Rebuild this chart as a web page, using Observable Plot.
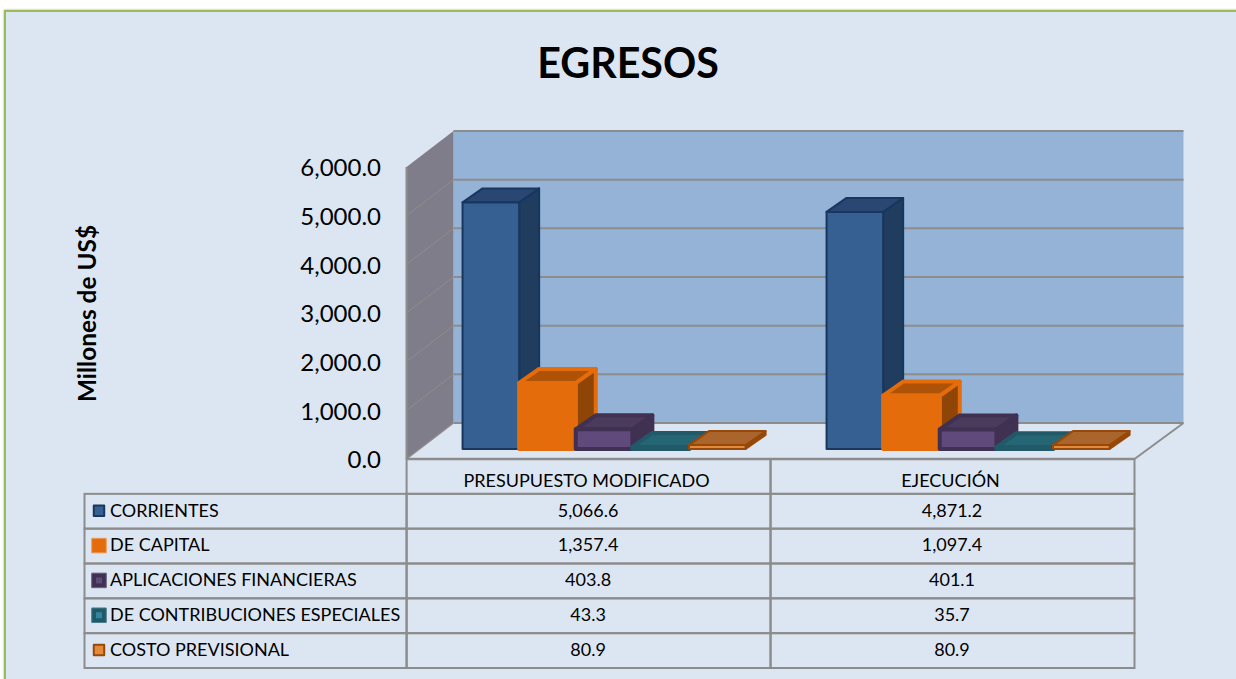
<!DOCTYPE html>
<html>
<head>
<meta charset="utf-8">
<script src="https://cdn.jsdelivr.net/npm/d3@7"></script>
<script src="https://cdn.jsdelivr.net/npm/@observablehq/plot@0.6"></script>
<style>
html,body{margin:0;padding:0;background:#fff;overflow:hidden;width:1236px;height:679px;}
body{font-family:Lato,sans-serif;color:#000;}
#frame{position:absolute;left:4px;top:10px;width:1260px;height:700px;background:#dce6f2;border:2.5px solid #9bbb59;box-sizing:border-box;box-shadow:0 0 2px #999;}
#page{position:absolute;left:0;top:0;width:1236px;}
#title{height:100px;width:1256px;box-sizing:border-box;padding-top:36px;line-height:52px;text-align:center;font-weight:700;font-size:41.2px;}
#table{margin-top:-2px;}
svg{display:block;background:transparent !important;overflow:visible;}
</style>
</head>
<body>
<div id="frame"></div>
<div id="page"><div id="title">EGRESOS</div><div id="chart"></div><div id="table"></div></div>
<script>
const categories = ["PRESUPUESTO MODIFICADO", "EJECUCIÓN"];
const seriesNames = ["CORRIENTES", "DE CAPITAL", "APLICACIONES FINANCIERAS", "DE CONTRIBUCIONES ESPECIALES", "COSTO PREVISIONAL"];
const corrientes = [5066.6, 4871.2];
const deCapital = [1357.4, 1097.4];
const aplicaciones = [403.8, 401.1];
const contribuciones = [43.3, 35.7];
const costoPrevisional = [80.9, 80.9];
const yTicks = [0, 1000, 2000, 3000, 4000, 5000, 6000];
const seriesValues = [corrientes, deCapital, aplicaciones, contribuciones, costoPrevisional];

const styles = [
  {front:"#366092", edge:"#17375e", sw:2,   side:"#203c5f", top:"#2a4672"},
  {front:"#e46c0a", edge:"#e46c0a", sw:4,   side:"#8f4505", top:"#ad5206"},
  {front:"#604a7b", edge:"#403152", sw:4,   side:"#403152", top:"#4a3a5e"},
  {front:"#31859c", edge:"#215968", sw:4,   side:"#215968", top:"#246674"},
  {front:"#e38b3d", edge:"#984807", sw:2,   side:"#984807", top:"#a9652b"}
];
const axisGrey = "#8c8c8c";
const wallDepth = [47, -36], wallRightDepth = 49, barDepth = [20, -14], barLift = 10;
const groupStart = 0.154, barWidth = 0.1555;

const svgNS = "http://www.w3.org/2000/svg";
function el(tag, attrs){const e=document.createElementNS(svgNS,tag);for(const k in attrs)e.setAttribute(k,attrs[k]);return e;}

function walls(index, {x, y}) {
  const g = el("g", {});
  const [dx, dy] = wallDepth, dr = wallRightDepth;
  const x0 = x(0), x1 = x(2), y0 = y(0), yT = y(6000);
  const poly = (pts, fill) => g.appendChild(el("polygon", {points: pts.map(p => p.join(",")).join(" "), fill}));
  const line = (a, b, stroke, w) => g.appendChild(el("line", {x1:a[0], y1:a[1], x2:b[0], y2:b[1], stroke, "stroke-width":w}));
  poly([[x0+dx,y0+dy],[x1+dr,y0+dy],[x1+dr,yT+dy],[x0+dx,yT+dy]], "#95b3d7");
  poly([[x0,y0],[x0+dx,y0+dy],[x0+dx,yT+dy],[x0,yT]], "#807d8b");
  for (const t of yTicks) {
    line([x0+dx,y(t)+dy],[x1+dr,y(t)+dy], axisGrey, 2);
    if (t > 0 && t < 6000) line([x0,y(t)],[x0+dx,y(t)+dy], "#8f8d84", 1);
  }
  line([x0,y0],[x0+dx,y0+dy], axisGrey, 1.5);
  line([x1,y0],[x1+dr,y0+dy], axisGrey, 2);
  line([x0,yT],[x0,y0], axisGrey, 2);
  line([x0,y0],[x1,y0], axisGrey, 2.5);
  return g;
}

function barFaces(rows, st) {
  return (index, {x, y}) => {
    const g = el("g", {"stroke-linejoin":"round"});
    const [dx, dy] = barDepth;
    for (const r of rows) {
      const xr = x(r.x2), xl = x(r.x1), yt = y(r.v) - barLift, yb = y(0) - barLift;
      const attrs = {stroke: st.edge, "stroke-width": st.sw};
      g.appendChild(el("polygon", {points:`${xr},${yt} ${xr+dx},${yt+dy} ${xr+dx},${yb+dy} ${xr},${yb}`, fill: st.side, ...attrs}));
      g.appendChild(el("polygon", {points:`${xl},${yt} ${xl+dx},${yt+dy} ${xr+dx},${yt+dy} ${xr},${yt}`, fill: st.top, ...attrs}));
    }
    return g;
  };
}

const barMarks = seriesValues.flatMap((vals, j) => {
  const rows = vals.map((v, i) => ({
    serie: seriesNames[j], v,
    x1: i + groupStart + j * barWidth,
    x2: i + groupStart + (j + 1) * barWidth
  }));
  const st = styles[j];
  return [
    barFaces(rows, st),
    Plot.rect(rows, {x1:"x1", x2:"x2", y1:0, y2:"v", dy:-barLift, fill:st.front, stroke:st.edge, strokeWidth:st.sw, strokeLinejoin:"round"})
  ];
});

const chart = Plot.plot({
  width: 1236, height: 360,
  marginLeft: 406.5, marginRight: 101.5, marginTop: 67, marginBottom: 1,
  style: {background:"transparent", overflow:"visible"},
  x: {domain:[0,2], axis:null},
  y: {domain:[0,6000], axis:null},
  marks: [
    walls,
    ...barMarks,
    Plot.axisY(yTicks, {anchor:"left", tickSize:0, tickPadding:26, dy:1, tickFormat:d3.format(",.1f"), fontSize:24, fontFamily:"Lato", fill:"#000", label:null}),
    Plot.text(["Millones de US$"], {frameAnchor:"left", textAnchor:"middle", dx:-319, rotate:-90, fontSize:24.4, fontWeight:700, fontFamily:"Lato", fill:"#000"})
  ]
});
document.getElementById("chart").appendChild(chart);

const headerKey = " ";
const rowDomain = [headerKey, ...seriesNames];
const cells = seriesNames.flatMap((s, j) => categories.map((c, i) => ({s, i, v: seriesValues[j][i]})));
const headerCells = categories.map((c, i) => ({s: headerKey, i, c}));
const labelLeft = -0.885;
const swatches = [
  {s:seriesNames[0], r:5.9, fill:"#366092", stroke:"#17375e", sw:2},
  {s:seriesNames[1], r:8.2, fill:"#e46c0a", stroke:"#ee9a55", sw:1},
  {s:seriesNames[2], r:8.2, fill:"#403152", stroke:"#6a5c80", sw:1},
  {s:seriesNames[3], r:8.2, fill:"#215968", stroke:"#4a7f8c", sw:1},
  {s:seriesNames[4], r:5.9, fill:"#e38b3d", stroke:"#984807", sw:2}
];
const swatchInner = [
  {s:seriesNames[2], fill:"#604a7b"},
  {s:seriesNames[3], fill:"#31859c"}
];

const table = Plot.plot({
  width: 1236, height: 212,
  marginLeft: 84.5, marginRight: 101.5, marginTop: 1, marginBottom: 2,
  style: {background:"transparent", overflow:"visible"},
  x: {domain:[labelLeft,2], axis:null},
  y: {domain:rowDomain, padding:0, round:false, axis:null},
  marks: [
    Plot.barX(seriesNames, {y:d=>d, x1:labelLeft, x2:0, fill:"none", stroke:axisGrey, strokeWidth:2, inset:0}),
    Plot.barX(cells, {y:"s", x1:"i", x2:d=>d.i+1, fill:"none", stroke:axisGrey, strokeWidth:2, inset:0}),
    Plot.barX(headerCells, {y:"s", x1:"i", x2:d=>d.i+1, fill:"none", stroke:axisGrey, strokeWidth:2, inset:0}),
    Plot.text(headerCells, {y:"s", x:d=>d.i+0.5, text:"c", dx:-2.5, dy:4, fontSize:18, fontFamily:"Lato", fill:"#000"}),
    Plot.text(cells, {y:"s", x:d=>d.i+0.5, text:d=>d3.format(",.1f")(d.v), dx:-1, dy:-1, fontSize:18, fontFamily:"Lato", fill:"#000"}),
    Plot.text(seriesNames, {y:d=>d, text:d=>d, frameAnchor:"left", dx:25, dy:-1, textAnchor:"start", fontSize:18, fontFamily:"Lato", fill:"#000"}),
    Plot.dot(swatches, {y:"s", frameAnchor:"left", dx:14, dy:-1, symbol:"square", r:{value:"r", scale:null}, fill:"fill", stroke:"stroke", strokeWidth:"sw", strokeLinejoin:"round"}),
    Plot.dot(swatchInner, {y:"s", frameAnchor:"left", dx:14, dy:-1, symbol:"square", r:3.4, fill:"fill"})
  ]
});
document.getElementById("table").appendChild(table);
</script>
</body>
</html>
